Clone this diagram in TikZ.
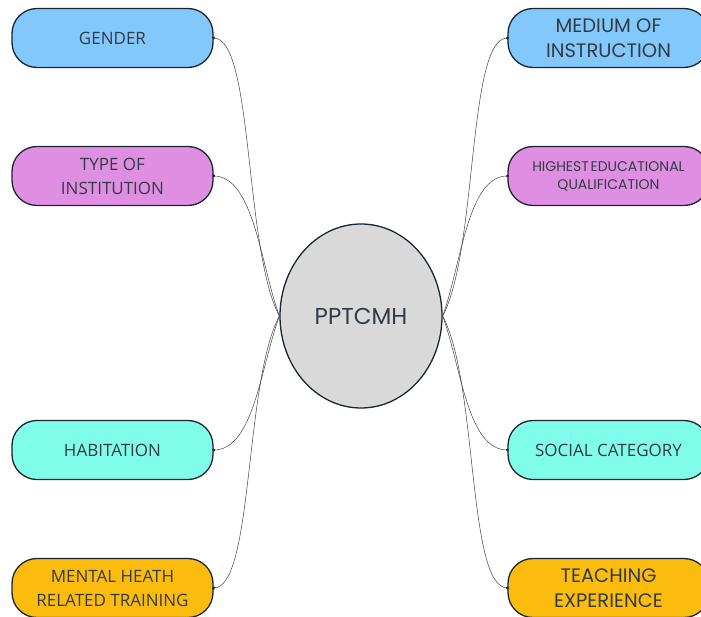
\documentclass[tikz,border=0pt]{standalone}
\usepackage{fontspec}
\usepackage{tikz}
\usetikzlibrary{shapes.geometric}
\newfontfamily\opensans{Open Sans}
\newfontfamily\poppins{Poppins}
\definecolor{blu}{HTML}{82C8FA}
\definecolor{vio}{HTML}{DF8FE1}
\definecolor{aqua}{HTML}{80FCEA}
\definecolor{amber}{HTML}{FCBC0E}
\definecolor{core}{HTML}{D9D9D9}
\definecolor{ink}{HTML}{1B2530}
\definecolor{ink2}{HTML}{404040}
\tikzset{
  pill/.style={rectangle, rounded corners=25pt, draw=ink, line width=1.3pt, fill=#1, minimum width=201pt, minimum height=59pt, inner sep=0pt, align=center, text=ink!90},
  lft/.style={font=\opensans\fontsize{17}{24}\selectfont},
  rgt/.style={font=\poppins\fontsize{19.5}{25}\selectfont},
  link/.style={draw=ink2, line width=0.5pt},
}

\begin{document}
\begin{tikzpicture}[x=1pt,y=1pt]
  \clip (0,0) rectangle (701,616);
  % centre
  \node[ellipse, draw=ink, line width=1.3pt, fill=core, minimum width=162pt, minimum height=184pt, font=\poppins\fontsize{23}{26}\selectfont, text=ink!90] (pp) at (361,300) {PPTCMH};
  % left column
  \node[pill=blu, lft] (gen) at (112.5,578) {GENDER};
  \node[pill=vio, lft] (inst) at (112.5,440) {TYPE OF\\INSTITUTION};
  \node[pill=aqua, lft] (hab) at (112.5,166) {HABITATION};
  \node[pill=amber, lft] (mht) at (112.5,28) {MENTAL HEATH\\RELATED TRAINING};
  % right column
  \node[pill=blu, rgt] (med) at (608.5,578) {MEDIUM OF\\INSTRUCTION};
  \node[pill=vio, font=\poppins\fontsize{14}{18}\selectfont] (edu) at (608.5,440) {HIGHEST\hspace{0.12em}EDUCATIONAL\\QUALIFICATION};
  \node[pill=aqua, lft] (soc) at (608.5,166) {SOCIAL CATEGORY};
  \node[pill=amber, rgt] (exp) at (608.5,28) {TEACHING\\EXPERIENCE};
  % links
  \foreach \a/\i/\d in {gen/118/75pt, inst/110/55pt, hab/-110/55pt, mht/-118/75pt} {
    \draw[link] (\a.east) to[out=0, in=\i, out distance=40pt, in distance=\d] (pp.west);
    \fill[ink] (\a.east) circle (1.6pt);
  }
  \foreach \a/\i/\d in {med/62/75pt, edu/70/55pt, soc/-70/55pt, exp/-62/75pt} {
    \draw[link] (\a.west) to[out=180, in=\i, out distance=40pt, in distance=\d] (pp.east);
    \fill[ink] (\a.west) circle (1.6pt);
  }
\end{tikzpicture}
\end{document}
